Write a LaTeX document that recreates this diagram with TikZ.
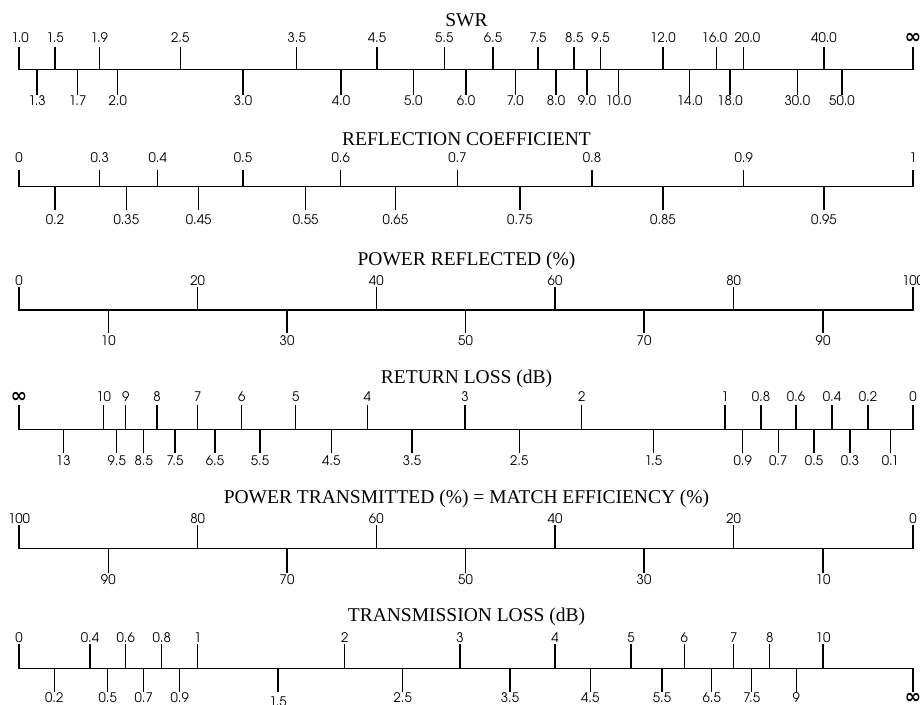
\documentclass[tikz,border=0pt]{standalone}
\usepackage{fontspec}
\setmainfont{Liberation Serif}
\newfontfamily\tickfont{texgyreadventor-regular.otf}
\newfontfamily\symbfont{DejaVu Sans}
\usetikzlibrary{positioning}

\begin{document}
\begin{tikzpicture}[x=1pt,y=-1pt,
    axis/.style={line width=1.5pt, black, line cap=rect},
    tick/.style={line width=1.5pt, black},
    ticklabel/.style={font=\tickfont\fontsize{13.2}{15}\selectfont, inner sep=0pt},
    scaletitle/.style={font=\fontsize{19.5}{20}\selectfont, anchor=base, inner sep=0pt},
    infty/.style={font=\symbfont\bfseries\fontsize{20}{20}\selectfont, inner sep=0pt}]
    \useasboundingbox (0,0) rectangle (920,704);
    % SWR
    \node[scaletitle] (swrtitle) at (466.5,26) {SWR};
    \draw[axis] (19,69.5) -- (913,69.5);
    \foreach \x/\t/\lx [count=\i] in {19/1.0/20, 55/1.5/55, 99.3/1.9/99.3, 180.3/2.5/180.3, 296.7/3.5/296.7, 377/4.5/377, 444.3/5.5/444.3, 493/6.5/493, 538/7.5/538, 574/8.5/574.3, 600.3/9.5/600.5, 663/12.0/663, 716.7/16.0/714.5, 743.3/20.0/747.5, 824/40.0/824}{
        \draw[tick] (\x,69.5) -- (\x,47);
        \node[ticklabel] (swrup\i) at (\lx,37.5) {\t};
    }
    \draw[tick] (913,69.5) -- (913,47);
    \node[infty] (swrinf) at (913,38) {∞};
    \foreach \x/\t [count=\i] in {37/1.3, 77.7/1.7, 117.7/2.0, 243/3.0, 341/4.0, 413.3/5.0, 466/6.0, 515.3/7.0, 556/8.0, 587/9.0, 618.3/10.0, 689.7/14.0, 730/18.0, 797.3/30.0, 842/50.0}{
        \draw[tick] (\x,69.5) -- (\x,94.5);
        \node[ticklabel] (swrdown\i) at (\x,100.5) {\t};
    }
    %
    % Reflection coefficient
    \node[scaletitle] (rctitle) at (466.5,145) {REFLECTION COEFFICIENT};
    \draw[axis] (19,186.7) -- (913,186.7);
    \foreach \x/\t [count=\i] in {19/0, 99.7/0.3, 157.7/0.4, 243/0.5, 340.7/0.6, 457.5/0.7, 592/0.8, 743.7/0.9, 913/1}{
        \draw[tick] (\x,186.7) -- (\x,170);
        \node[ticklabel] (rcup\i) at (\x,157.3) {\t};
    }
    \foreach \x/\t [count=\i] in {55/0.2, 126.3/0.35, 198.7/0.45, 305.7/0.55, 395.3/0.65, 520/0.75, 663/0.85, 824/0.95}{
        \draw[tick] (\x,186.7) -- (\x,210);
        \node[ticklabel] (rcdown\i) at (\x,220) {\t};
    }
    %
    % Power reflected
    \node[scaletitle] (prtitle) at (466.5,265) {POWER REFLECTED (\%)};
    \draw[axis] (19,310) -- (913,310);
    \foreach \x/\t [count=\i] in {19/0, 197.7/20, 376.3/40, 555/60, 733.7/80, 913/100}{
        \draw[tick] (\x,310) -- (\x,286.7);
        \node[ticklabel] (prup\i) at (\x,280.3) {\t};
    }
    \foreach \x/\t [count=\i] in {108.3/10, 287/30, 465.5/50, 644/70, 823/90}{
        \draw[tick] (\x,310) -- (\x,333.3);
        \node[ticklabel] (prdown\i) at (\x,340.5) {\t};
    }
    %
    % Return loss
    \node[scaletitle] (rltitle) at (466.5,383.3) {RETURN LOSS (dB)};
    \draw[axis] (19,429.3) -- (913,429.3);
    \draw[tick] (19,429.3) -- (19,405);
    \node[infty] (rlinf) at (19,397) {∞};
    \foreach \x/\t [count=\i] in {103.7/10, 125.7/9, 157/8, 197.7/7, 241.7/6, 295.7/5, 367.3/4, 465/3, 581.7/2, 725/1, 761/0.8, 796/0.6, 832/0.4, 868/0.2, 913/0}{
        \draw[tick] (\x,429.3) -- (\x,405);
        \node[ticklabel] (rlup\i) at (\x,397) {\t};
    }
    \foreach \x/\t [count=\i] in {63.3/13, 116.7/9.5, 143.7/8.5, 175/7.5, 215/6.5, 260/5.5, 331.3/4.5, 412/3.5, 519.3/2.5, 653.3/1.5, 742.7/0.9, 778.3/0.7, 814/0.5, 850/0.3, 890.3/0.1}{
        \draw[tick] (\x,429.3) -- (\x,453.3);
        \node[ticklabel] (rldown\i) at (\x,460.3) {\t};
    }
    %
    % Power transmitted
    \node[scaletitle] (pttitle) at (466.5,503.3) {POWER TRANSMITTED (\%) = MATCH EFFICIENCY (\%)};
    \draw[axis] (19,548.7) -- (913,548.7);
    \foreach \x/\t [count=\i] in {19/100, 197.7/80, 376.3/60, 555/40, 733.7/20, 913/0}{
        \draw[tick] (\x,548.7) -- (\x,525);
        \node[ticklabel] (ptup\i) at (\x,518.3) {\t};
    }
    \foreach \x/\t [count=\i] in {108.3/90, 287/70, 465.5/50, 644/30, 823/10}{
        \draw[tick] (\x,548.7) -- (\x,573.3);
        \node[ticklabel] (ptdown\i) at (\x,580) {\t};
    }
    %
    % Transmission loss
    \node[scaletitle] (tltitle) at (466.5,621.7) {TRANSMISSION LOSS (dB)};
    \draw[axis] (19,668.3) -- (913,668.3);
    \foreach \x/\t [count=\i] in {19/0, 90/0.4, 125.7/0.6, 161.7/0.8, 197.7/1, 344.7/2, 460/3, 555/4, 631/5, 684.3/6, 733.7/7, 769.7/8, 823/10}{
        \draw[tick] (\x,668.3) -- (\x,644);
        \node[ticklabel] (tlup\i) at (\x,638) {\t};
    }
    \foreach \x/\t/\y [count=\i] in {54.3/0.2/697.5, 107.7/0.5/697.5, 143.7/0.7/697.5, 179.7/0.9/697.5, 278/1.5/701.7, 402.7/2.5/697.5, 510/3.5/697.5, 590.3/4.5/697.5, 662/5.5/697.5, 711.7/6.5/697.5, 751.7/7.5/697.5, 796.3/9/697.5}{
        \draw[tick] (\x,668.3) -- (\x,691.7);
        \node[ticklabel] (tldown\i) at (\x,\y) {\t};
    }
    \draw[tick] (913,668.3) -- (913,691.7);
    \node[infty] (tlinf) at (913,698.3) {∞};
\end{tikzpicture}
\end{document}
